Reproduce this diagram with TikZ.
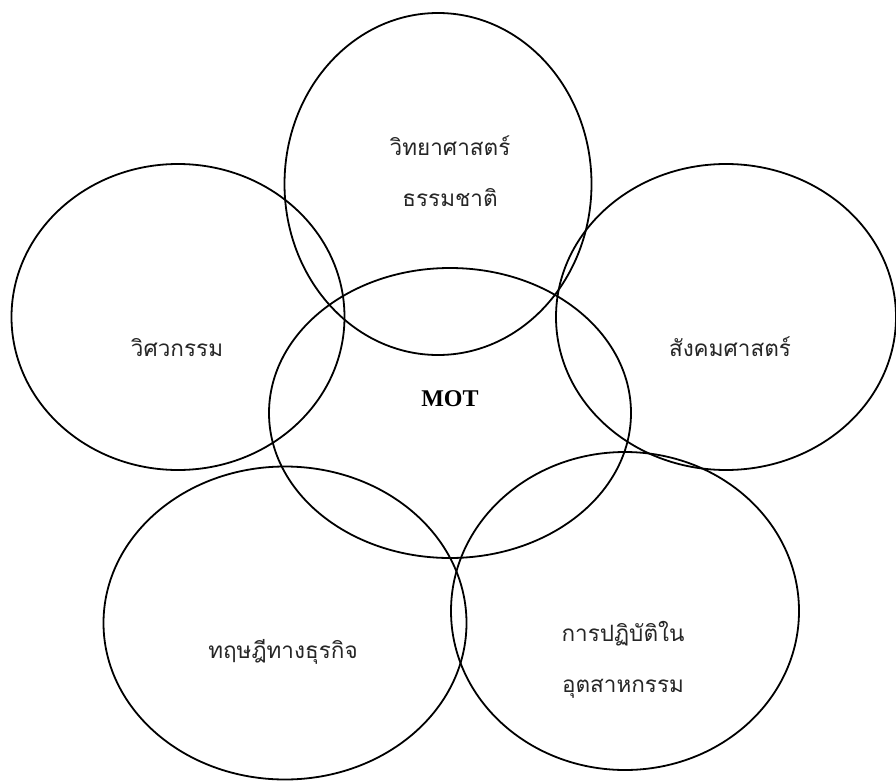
\documentclass[tikz,border=0pt]{standalone}
\usepackage{fontspec}
\setmainfont{Liberation Serif}
\newfontfamily\thaifont[Script=Thai]{Loma}
\usetikzlibrary{shapes.geometric}

\tikzset{
  field/.style={draw=black, line width=1.8pt, ellipse, inner sep=0pt},
  thailabel/.style={font=\thaifont\fontsize{22.5}{51}\selectfont, align=center, text=black!85},
}

\begin{document}
\begin{tikzpicture}[x=1pt, y=-1pt]
  \useasboundingbox (0,0) rectangle (896,781);

  % the six overlapping fields
  \node[field, minimum width=307pt, minimum height=342pt] (science)  at (438,184) {};
  \node[field, minimum width=333pt, minimum height=306pt] (engineer) at (178,317) {};
  \node[field, minimum width=340pt, minimum height=306pt] (social)   at (726,317) {};
  \node[field, minimum width=362pt, minimum height=290pt] (mot)      at (450,413) {};
  \node[field, minimum width=363pt, minimum height=313pt] (business) at (285,623) {};
  \node[field, minimum width=348pt, minimum height=318pt] (industry) at (625,611) {};

  % labels
  \node[thailabel] (scienceT)  at (450,171) {วิทยาศาสตร์\\ธรรมชาติ};
  \node[thailabel] (engineerT) at (177,348) {วิศวกรรม};
  \node[thailabel] (socialT)   at (730,347) {สังคมศาสตร์};
  \node[font=\bfseries\fontsize{24}{28}\selectfont] (motT) at (450,399) {MOT};
  \node[thailabel] (businessT) at (283,652) {ทฤษฎีทางธุรกิจ};
  \node[thailabel] (industryT) at (623,660) {การปฏิบัติใน\\อุตสาหกรรม};
\end{tikzpicture}
\end{document}
